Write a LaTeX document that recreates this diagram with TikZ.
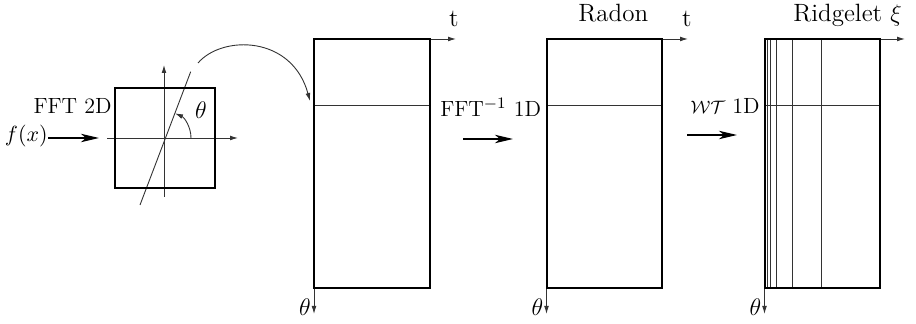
\documentclass[tikz,border=0pt]{standalone}
\usetikzlibrary{arrows.meta}
\begin{document}
\begin{tikzpicture}[x=0.5pt,y=0.5pt,
  thinln/.style={line width=0.45pt,black!80},
  thickln/.style={line width=1pt},
  axarrow/.style={thinln,-{Latex[length=4pt,width=2.4pt]}},
  bigarrow/.style={line width=0.9pt,-{Stealth[length=9pt,width=4.2pt,inset=2.5pt]}},
  lbl/.style={inner sep=0pt,font=\fontsize{11}{13}\selectfont},
  biglbl/.style={inner sep=0pt,font=\fontsize{12.5}{15}\selectfont},
  thlbl/.style={inner sep=0pt,font=\fontsize{13}{15}\selectfont}]
\useasboundingbox (0,0) rectangle (916,-324);

% ---- left square (2D Fourier plane) ----
\coordinate (o) at (164,-138);
\coordinate (hxs) at (107,-138);
\coordinate (hxe) at (238,-138);
\coordinate (vys) at (164,-197);
\coordinate (vye) at (164,-65);
\coordinate (la) at (140,-205);
\coordinate (lb) at (190.7,-71.7);
\draw[axarrow] (hxs) -- (hxe);
\draw[axarrow] (vys) -- (vye);
\draw[thinln] (la) -- (lb);
\node[draw,thickln,minimum width=50pt,minimum height=50pt,inner sep=0pt] (sq) at (165,-138) {};
\draw[thinln,-{Latex[length=4pt,width=2.4pt]}] (191,-138) arc[start angle=0,end angle=66,radius=27];
\node[thlbl] (th0) at (201,-110) {$\theta$};
\node[lbl,anchor=base east] (fft2) at (112,-114) {FFT 2D};
\node[lbl,anchor=base east] (fx) at (48,-142) {$f(x)$};
\coordinate (fxa) at (48,-138);
\coordinate (fxb) at (99,-138);
\draw[bigarrow] (fxa) -- (fxb);

% curved arrow
\coordinate (ca) at (198,-63);
\coordinate (cb) at (310,-101);
\draw[thinln,-{Latex[length=4pt,width=2.4pt]}] (ca) .. controls (222,-35) and (292,-35) .. (cb);

% ---- box 1 ----
\coordinate (b1tl) at (314,-39);
\coordinate (b1br) at (430,-288);
\draw[thinln] (314,-105) -- (430,-105);
\draw[axarrow] (430,-39) -- (456,-39);
\draw[axarrow] (314,-288) -- (314,-314);
\draw[thickln] (b1tl) rectangle (b1br);
\node[biglbl,anchor=base] (t1) at (454,-27) {t};
\node[thlbl] (th1) at (305,-307) {$\theta$};

% arrow 1
\node[lbl,anchor=base east] (ifft) at (541.5,-116.5) {FFT$^{-1}$ 1D};
\coordinate (a1s) at (463,-139);
\coordinate (a1e) at (513,-139);
\draw[bigarrow] (a1s) -- (a1e);

% ---- box 2 ----
\coordinate (b2tl) at (546.5,-39);
\coordinate (b2br) at (662,-288);
\draw[thinln] (546.5,-105) -- (662,-105);
\draw[axarrow] (662,-39) -- (688,-39);
\draw[axarrow] (546.5,-288) -- (546.5,-314);
\draw[thickln] (b2tl) rectangle (b2br);
\node[biglbl,anchor=base] (t2) at (687,-27) {t};
\node[biglbl,anchor=base west] (radon) at (578,-21.7) {Radon};
\node[thlbl] (th2) at (537.5,-307) {$\theta$};

% arrow 2
\node[lbl,anchor=base east] (wt) at (760,-113.3) {{\fontsize{9.5}{11}\selectfont$\mathcal{W}\mathcal{T}$} 1D};
\coordinate (a2s) at (687,-135);
\coordinate (a2e) at (737,-135);
\draw[bigarrow] (a2s) -- (a2e);

% ---- box 3 ----
\coordinate (b3tl) at (764.5,-39);
\coordinate (b3br) at (880,-288);
\draw[thinln] (764.5,-105) -- (880,-105);
\foreach \xx in {767.7,770.7,776.7,792.5,821.7}
  \draw[thinln] (\xx,-39) -- (\xx,-288);
\draw[axarrow] (880,-39) -- (905,-39);
\draw[axarrow] (764.5,-288) -- (764.5,-314);
\draw[thickln] (b3tl) rectangle (b3br);
\node[biglbl,anchor=base west] (ridge) at (793,-21.7) {Ridgelet $\xi$};
\node[thlbl] (th3) at (755.5,-307) {$\theta$};
\end{tikzpicture}
\end{document}
